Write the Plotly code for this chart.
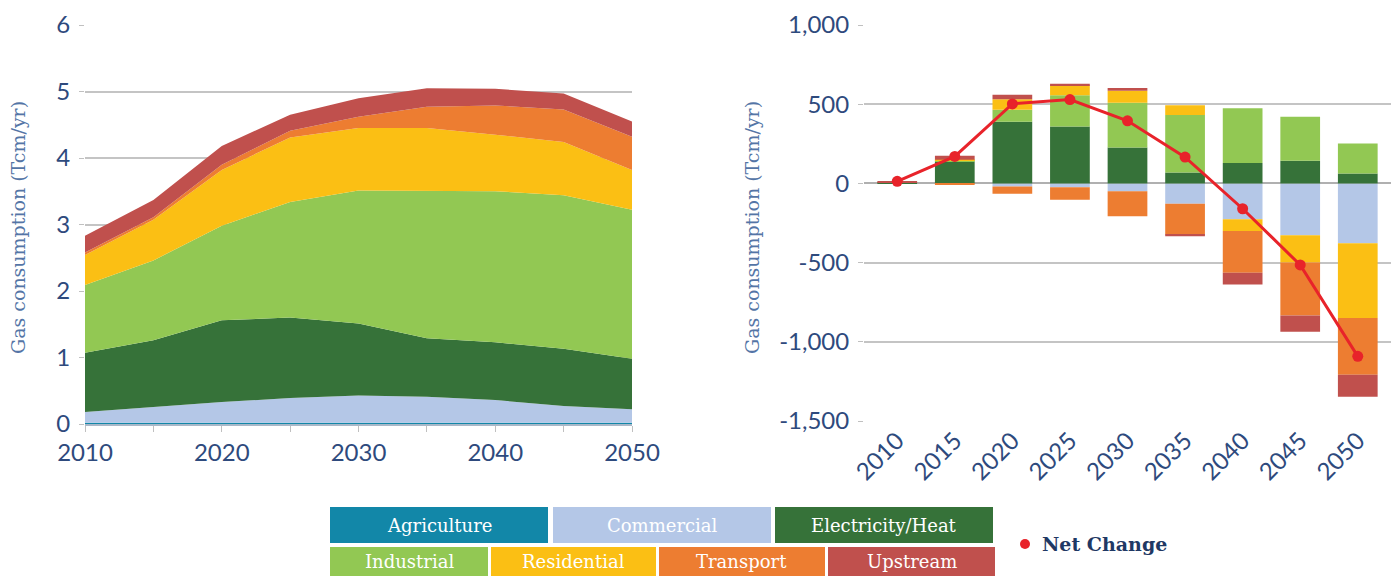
import plotly.graph_objects as go

# Left chart: gas consumption by sector (Tcm/yr), stacked area
years = [2010, 2015, 2020, 2025, 2030, 2035, 2040, 2045, 2050]
sectors = ["Agriculture", "Commercial", "Electricity/Heat", "Industrial",
           "Residential", "Transport", "Upstream"]
colors = ["#1287a8", "#b4c7e7", "#367239", "#92c853", "#fbbf14", "#ed7d31", "#c0504d"]

agriculture = [0.02, 0.02, 0.02, 0.02, 0.02, 0.02, 0.02, 0.02, 0.02]
commercial = [0.16, 0.24, 0.31, 0.37, 0.41, 0.39, 0.34, 0.25, 0.20]
electricity = [0.89, 1.00, 1.23, 1.21, 1.08, 0.88, 0.87, 0.86, 0.76]
industrial = [1.02, 1.20, 1.42, 1.74, 2.00, 2.21, 2.27, 2.31, 2.24]
residential = [0.45, 0.61, 0.84, 0.97, 0.94, 0.95, 0.85, 0.80, 0.60]
transport = [0.04, 0.04, 0.08, 0.10, 0.17, 0.32, 0.44, 0.49, 0.50]
upstream = [0.25, 0.26, 0.28, 0.24, 0.28, 0.28, 0.25, 0.24, 0.23]
area_values = [agriculture, commercial, electricity, industrial, residential, transport, upstream]

# Right chart: change in gas consumption (Tcm/yr), stacked bars + net line
bar_years = ["2010", "2015", "2020", "2025", "2030", "2035", "2040", "2045", "2050"]
chg_agriculture = [0, 0, 0, 0, 0, 0, 0, 0, 0]
chg_commercial = [0, 0, -19, -25, -50, -128, -227, -328, -378]
chg_electricity = [3, 138, 389, 359, 227, 69, 128, 143, 63]
chg_industrial = [0, 5, 76, 197, 282, 363, 347, 277, 189]
chg_residential = [0, 6, 67, 63, 76, 61, -74, -172, -471]
chg_transport = [0, -8, -46, -78, -158, -195, -263, -334, -359]
chg_upstream = [12, 25, 27, 10, 17, -10, -74, -103, -139]
change_values = [chg_agriculture, chg_commercial, chg_electricity, chg_industrial,
                 chg_residential, chg_transport, chg_upstream]
net_change = [13, 170, 502, 529, 395, 166, -160, -515, -1092]

tick_blue = "#2e4a7d"
title_blue = "#5475a6"
grid = "#c4c4c4"
W, H = 1399, 576

fig = go.Figure()

for name, vals, col in zip(sectors, area_values, colors):
    fig.add_trace(go.Scatter(
        x=years, y=vals, name=name, stackgroup="one", mode="lines",
        line=dict(width=0, color=col), fillcolor=col,
        xaxis="x", yaxis="y", showlegend=False))

for name, vals, col in zip(sectors, change_values, colors):
    fig.add_trace(go.Bar(
        x=bar_years, y=vals, name=name, marker=dict(color=col, line=dict(width=0)),
        xaxis="x2", yaxis="y2", showlegend=False))

fig.add_trace(go.Scatter(
    x=bar_years, y=net_change, name="Net Change", mode="lines+markers",
    line=dict(color="#e8232a", width=3), marker=dict(color="#e8232a", size=11),
    xaxis="x2", yaxis="y2", showlegend=False))

tickfont = dict(family="Lato", size=24, color=tick_blue)

fig.update_layout(
    width=W, height=H,
    margin=dict(l=0, r=0, t=0, b=0),
    paper_bgcolor="white", plot_bgcolor="white",
    barmode="relative", bargap=0.31,
    xaxis=dict(domain=[85 / W, 632 / W], range=[2010, 2050], tickvals=[2010, 2020, 2030, 2040, 2050],
               tickfont=tickfont, showgrid=False, showline=True, linecolor="#a9b8c8", linewidth=1.5,
               ticks="outside", ticklen=6, tickcolor="#c0c0c0", automargin=False,
               minor=dict(tickvals=[2015, 2025, 2035, 2045], ticks="outside", ticklen=6, tickcolor="#c0c0c0"),
               anchor="y", zeroline=False),
    yaxis=dict(domain=[(H - 424) / H, (H - 25) / H], range=[0, 6], dtick=1, tickfont=tickfont,
               showgrid=True, gridcolor=grid, gridwidth=1.5, zeroline=False,
               ticks="outside", ticklen=5, tickcolor="#c0c0c0",
               ticklabelstandoff=4, anchor="x", automargin=False),
    xaxis2=dict(domain=[864 / W, 1391 / W], tickangle=-45, tickfont=tickfont, showgrid=False,
                showline=False, zeroline=False, anchor="y2", automargin=False),
    yaxis2=dict(domain=[(H - 421) / H, (H - 25) / H], range=[-1500, 1000],
                tickvals=[-1500, -1000, -500, 0, 500, 1000],
                ticktext=["-1,500", "-1,000", "-500", "0", "500", "1,000"], tickfont=tickfont,
                showgrid=True, gridcolor=grid, gridwidth=1.5, zeroline=True, zerolinecolor="#b0b0b0",
                zerolinewidth=1.5, ticks="outside", ticklen=5, tickcolor="#c0c0c0",
                ticklabelstandoff=4, anchor="x2", automargin=False),
)

# axis titles
for xp in [18, 752]:
    fig.add_annotation(x=xp / W, y=(H - 228) / H, xref="paper", yref="paper", xanchor="center",
                       yanchor="middle", text="Gas consumption (Tcm/yr)", textangle=-90, showarrow=False,
                       font=dict(family="DejaVu Serif", size=19, color=title_blue))

# legend boxes
box_rows = [
    [(330, 548), (553, 771), (775, 993)],
    [(330, 488), (491, 656), (659, 825), (828, 995)],
]
row_y = [(507, 543), (547, 576)]
k = 0
for r, row in enumerate(box_rows):
    y0p, y1p = (H - row_y[r][1]) / H, (H - row_y[r][0]) / H
    for (x0, x1) in row:
        fig.add_shape(type="rect", xref="paper", yref="paper", x0=x0 / W, x1=x1 / W,
                      y0=y0p, y1=y1p, fillcolor=colors[k], line=dict(width=0), layer="above")
        fig.add_annotation(x=(x0 + x1) / 2 / W, y=(y0p + y1p) / 2, xref="paper", yref="paper",
                           xanchor="center", yanchor="middle", text=sectors[k], showarrow=False,
                           font=dict(family="DejaVu Serif", size=18, color="white"))
        k += 1

fig.add_shape(type="circle", xref="paper", yref="paper", x0=1020 / W, x1=1030 / W,
              y0=(H - 549) / H, y1=(H - 539) / H, fillcolor="#e8232a", line=dict(width=0))
fig.add_annotation(x=1040 / W, y=(H - 544) / H, xref="paper", yref="paper", xanchor="left",
                   yanchor="middle", text="<b>Net Change</b>", showarrow=False,
                   font=dict(family="DejaVu Serif", size=19, color="#1f3864"))

fig.write_html("out.html", config={"displayModeBar": False},
               post_script="document.body.style.margin='0';")
